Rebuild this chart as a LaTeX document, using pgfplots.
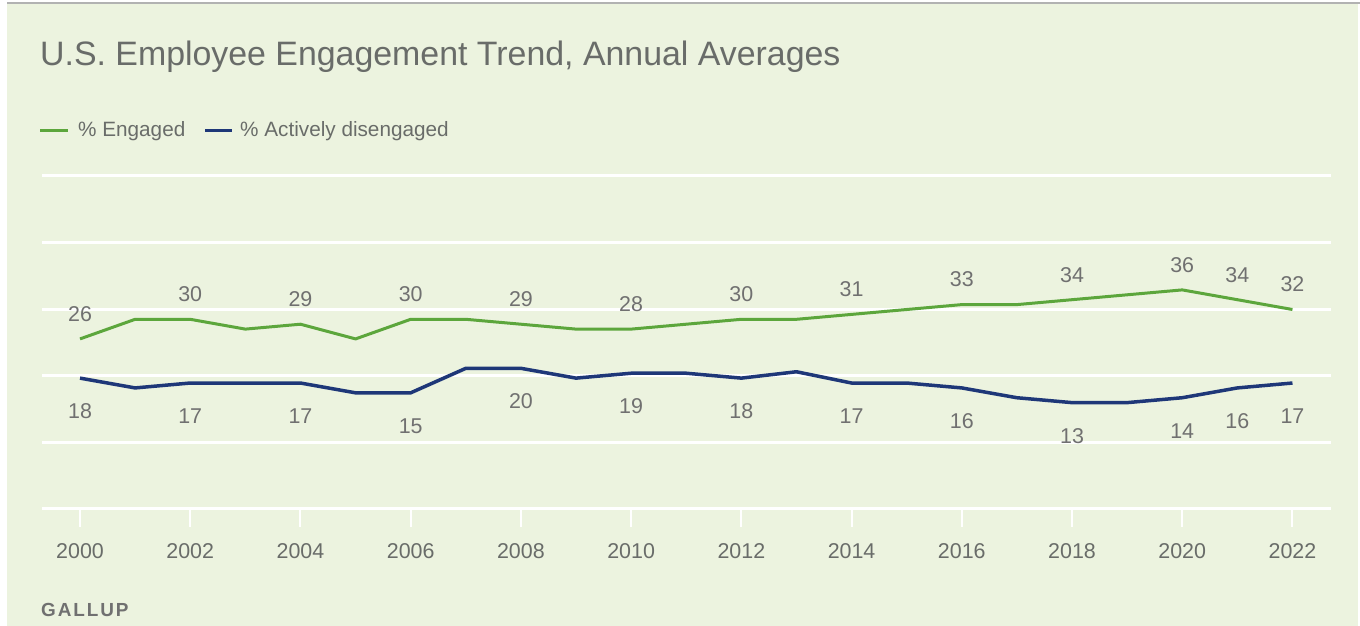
\documentclass[border=0pt]{standalone}
\usepackage{pgfplots}
\pgfplotsset{compat=1.18}
\usepackage{fontspec}
\setmainfont{Liberation Sans}
\definecolor{bg}{RGB}{236,243,223}
\definecolor{eng}{RGB}{92,166,60}
\definecolor{dis}{RGB}{30,55,120}
\definecolor{txt}{RGB}{105,108,105}
\definecolor{lbl}{RGB}{112,112,112}

\begin{document}
\begin{tikzpicture}[x=1bp,y=1bp]
\fill[white] (0,0) rectangle (1360,626);
\fill[bg] (7,0) rectangle (1358,622);
\fill[black!30] (7,622) rectangle (1360,624);
\node[anchor=base west, inner sep=0, text=txt, font=\fontsize{34}{38}\selectfont] at (40,560.3) {U.S. Employee Engagement Trend, Annual Averages};
% legend
\draw[eng, line width=3bp] (40,495.3) -- (68,495.3);
\node[anchor=base west, inner sep=0, text=txt, font=\fontsize{20.8}{24}\selectfont] at (78,489) {\% Engaged};
\draw[dis, line width=3bp] (205,495.3) -- (232,495.3);
\node[anchor=base west, inner sep=0, text=txt, font=\fontsize{20.8}{24}\selectfont] at (240,489) {\% Actively disengaged};
% source
\node[anchor=base west, inner sep=0, text=lbl, font=\fontsize{19}{22}\selectfont\bfseries] at (41,9.3) {\addfontfeatures{LetterSpace=10}GALLUP};
\begin{axis}[
  at={(42bp,117bp)}, anchor=south west,
  scale only axis, width=1289bp, height=333.3bp,
  xmin=1999.31, xmax=2022.70, ymin=-8.7, ymax=59.3,
  axis line style={draw=none},
  /pgf/number format/assume math mode=true,
  ytick={-8.7,4.9,18.5,32.1,45.7,59.3}, yticklabels={},
  ymajorgrids, major grid style={white, line width=3bp},
  ytick style={draw=none},
  xtick={2000,2002,...,2022},
  xtick pos=left,
  tick align=outside,
  major tick length=18bp,
  xtick style={white, line width=2bp},
  xticklabel style={anchor=center, yshift=-24bp, text=txt, font=\fontsize{21.5}{24}\selectfont, /pgf/number format/1000 sep={}},
  clip=false,
]
\addplot[eng, line width=3bp, line join=round] coordinates {
(2000,26) (2001,30) (2002,30) (2003,28) (2004,29) (2005,26) (2006,30) (2007,30)
(2008,29) (2009,28) (2010,28) (2011,29) (2012,30) (2013,30) (2014,31) (2015,32)
(2016,33) (2017,33) (2018,34) (2019,35) (2020,36) (2021,34) (2022,32)};
\addplot[dis, line width=3.5bp, line join=round] coordinates {
(2000,18) (2001,16) (2002,17) (2003,17) (2004,17) (2005,15) (2006,15) (2007,20)
(2008,20) (2009,18) (2010,19) (2011,19) (2012,18) (2013,19.3) (2014,17) (2015,17)
(2016,16) (2017,14) (2018,13) (2019,13) (2020,14) (2021,16) (2022,17)};
% labels
\addplot[draw=none, mark=none, nodes near coords,
  nodes near coords style={anchor=center, yshift=25bp, text=lbl, font=\fontsize{21.5}{24}\selectfont}]
  coordinates {(2000,26) (2002,30) (2004,29) (2006,30) (2008,29) (2010,28) (2012,30)
  (2014,31) (2016,33) (2018,34) (2020,36) (2021,34) (2022,32)};
\addplot[draw=none, mark=none, nodes near coords,
  nodes near coords style={anchor=center, yshift=-33bp, text=lbl, font=\fontsize{21.5}{24}\selectfont}]
  coordinates {(2000,18) (2002,17) (2004,17) (2006,15) (2008,20) (2010,19) (2012,18)
  (2014,17) (2016,16) (2018,13) (2020,14) (2021,16) (2022,17)};
\end{axis}
\end{tikzpicture}
\end{document}
